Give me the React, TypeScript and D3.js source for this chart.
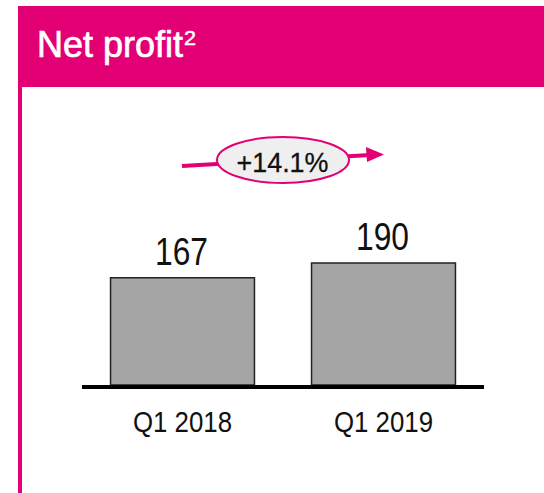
import React from "react";
import * as d3 from "d3";

const categories = ["Q1 2018", "Q1 2019"];
const values = [167, 190];
const valueLabels = ["167", "190"];
const growthLabel = "+14.1%";
const title = "Net profit";
const titleSup = "2";

const W = 544;
const H = 493;
const MAGENTA = "#e20074";

export default function App() {
  const baseY = 385;
  const x = d3
    .scaleBand<string>()
    .domain(categories)
    .range([82, 484])
    .paddingInner(0.284)
    .paddingOuter(0.142);
  const y = d3.scaleLinear().domain([0, 190]).range([baseY, 263]);

  const fontFamily = "'Liberation Sans', Arial, sans-serif";

  return (
    <svg
      width={W}
      height={H}
      style={{ position: "absolute", left: 0, top: 0, background: "#fff" }}
      fontFamily={fontFamily}
    >
      {/* header */}
      <rect x={18} y={6} width={W - 18} height={81} fill={MAGENTA} />
      <rect x={18} y={87} width={4} height={H - 87} fill={MAGENTA} />
      <text x={37} y={57} fill="#fff" fontSize={36} stroke="#fff" strokeWidth={0.7}>
        {title}
      </text>
      <text
        x={184}
        y={45}
        fill="#fff"
        fontSize={20}
        stroke="#fff"
        strokeWidth={0.5}
        textLength={12}
        lengthAdjust="spacingAndGlyphs"
      >
        {titleSup}
      </text>

      {/* growth arrow */}
      <line x1={182} y1={166} x2={370} y2={155} stroke={MAGENTA} strokeWidth={4} />
      <path d="M366,147 L384,154.5 L367,162 Z" fill={MAGENTA} />
      <ellipse cx={283} cy={160} rx={66} ry={23} fill="#efefef" stroke={MAGENTA} strokeWidth={2} />
      <text
        x={282.5}
        y={172}
        textAnchor="middle"
        fontSize={28}
        fill="#111"
        stroke="#111"
        strokeWidth={0.3}
        textLength={92}
        lengthAdjust="spacingAndGlyphs"
      >
        {growthLabel}
      </text>

      {/* bars */}
      {categories.map((c, i) => {
        const x0 = x(c)!;
        const bw = x.bandwidth();
        const top = y(values[i]);
        return (
          <g key={c}>
            <rect
              x={x0}
              y={top}
              width={bw}
              height={baseY - top}
              fill="#a5a5a5"
              stroke="#222"
              strokeWidth={1.5}
            />
            <text
              x={x0 + bw / 2 - 1}
              y={top - 13}
              textAnchor="middle"
              fontSize={39}
              fill="#111"
              textLength={53}
              lengthAdjust="spacingAndGlyphs"
            >
              {valueLabels[i]}
            </text>
            <text
              x={x0 + bw / 2}
              y={432}
              textAnchor="middle"
              fontSize={30}
              fill="#111"
              textLength={99}
              lengthAdjust="spacingAndGlyphs"
            >
              {c}
            </text>
          </g>
        );
      })}

      {/* baseline */}
      <line x1={82} x2={484} y1={baseY + 2} y2={baseY + 2} stroke="#000" strokeWidth={4} />
    </svg>
  );
}
